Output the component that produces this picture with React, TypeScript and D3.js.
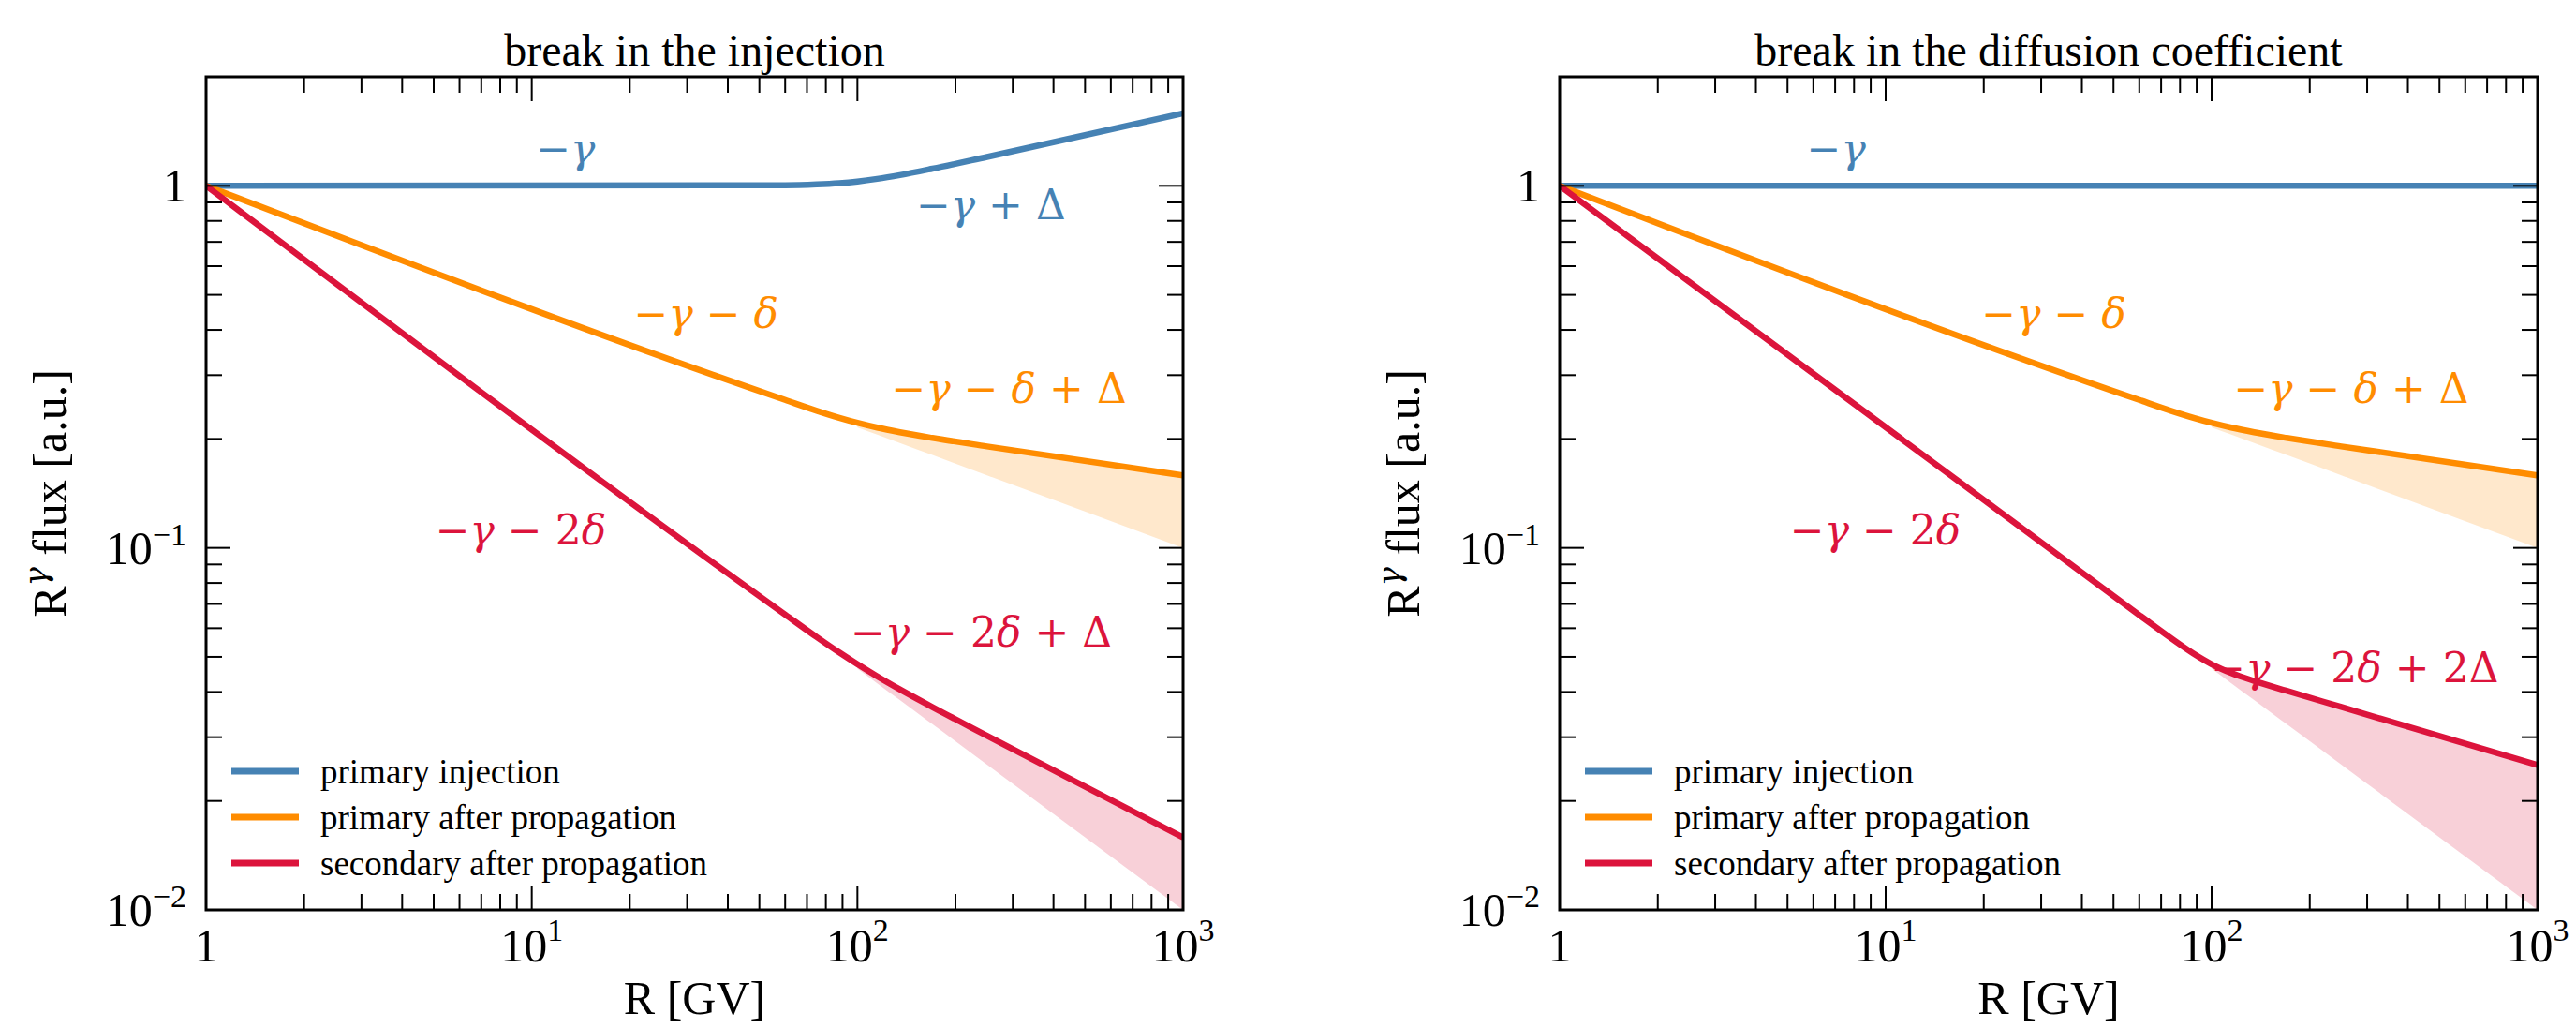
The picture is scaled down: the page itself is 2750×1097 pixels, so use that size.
import * as d3 from 'd3';
import React from 'react';

// rigidity grid (GV) and the fluxes (R^gamma * flux, a.u.)
const rigidity = [1, 60, 75, 88, 100, 115, 135, 170, 250, 1000];
const injectionBreakBlue = [1, 1.003, 1.0086, 1.0171, 1.0281, 1.0451, 1.0704, 1.115, 1.2016, 1.5849];
const flatBlue = [1, 1, 1, 1, 1, 1, 1, 1, 1, 1];
const primaryProp = [1, 0.2562, 0.2392, 0.2287, 0.2215, 0.2149, 0.2087, 0.2013, 0.1907, 0.1585];
const secondaryInj = [1, 0.06544, 0.0567, 0.0514, 0.04772, 0.04418, 0.04066, 0.03633, 0.03028, 0.01585];
const secondaryDiff = [1, 0.06525, 0.05634, 0.05104, 0.04772, 0.0451, 0.04292, 0.04029, 0.03635, 0.02512];

// shaded bands: from the break up to the unbroken power law
const bandRigidity = [100, 115, 135, 170, 250, 1000];
const primaryNoBreak = [0.2154, 0.2056, 0.1949, 0.1805, 0.1587, 0.1];
const secondaryNoBreak = [0.04642, 0.04227, 0.03799, 0.03258, 0.0252, 0.01];

const xMajor = [1, 10, 100, 1000];
const xMajorExp = ['', '1', '2', '3'];
const yMajor = [0.01, 0.1, 1];
const yMajorExp = ['−2', '−1', ''];

const legendLabels = ['primary injection', 'primary after propagation', 'secondary after propagation'];

const BLUE = '#4682b4';
const ORANGE = '#ff8c00';
const RED = '#dc143c';
const FONT = '"Liberation Serif", "DejaVu Serif", serif';
const MATH = '"DejaVu Serif", serif';

const TOP = 82;
const BOTTOM = 971;

type Part = { t: string; it?: boolean };
type Note = { r: number; v: number; color: string; parts: Part[] };

const m = (t: string): Part => ({ t });
const g = (t: string): Part => ({ t, it: true });

const leftNotes: Note[] = [
  { r: 12.7, v: 1.154, color: BLUE, parts: [m('−'), g('γ')] },
  { r: 257, v: 0.807, color: BLUE, parts: [m('−'), g('γ'), m(' + Δ')] },
  { r: 34.3, v: 0.406, color: ORANGE, parts: [m('−'), g('γ'), m(' − '), g('δ')] },
  { r: 292, v: 0.252, color: ORANGE, parts: [m('−'), g('γ'), m(' − '), g('δ'), m(' + Δ')] },
  { r: 9.25, v: 0.102, color: RED, parts: [m('−'), g('γ'), m(' − 2'), g('δ')] },
  { r: 240, v: 0.0534, color: RED, parts: [m('−'), g('γ'), m(' − 2'), g('δ'), m(' + Δ')] },
];

const rightNotes: Note[] = [
  { r: 7.05, v: 1.154, color: BLUE, parts: [m('−'), g('γ')] },
  { r: 32.8, v: 0.406, color: ORANGE, parts: [m('−'), g('γ'), m(' − '), g('δ')] },
  { r: 268, v: 0.252, color: ORANGE, parts: [m('−'), g('γ'), m(' − '), g('δ'), m(' + Δ')] },
  { r: 9.3, v: 0.102, color: RED, parts: [m('−'), g('γ'), m(' − 2'), g('δ')] },
  { r: 275, v: 0.0426, color: RED, parts: [m('−'), g('γ'), m(' − 2'), g('δ'), m(' + 2Δ')] },
];

function Panel({ id, left, width, title, blue, red, redNoBreak, notes }: any) {
  const x = d3.scaleLog().domain([1, 1000]).range([left, left + width]);
  const y = d3.scaleLog().domain([0.01, 2]).range([BOTTOM, TOP]);

  const line = d3.line<number>()
    .x((_, i) => x(rigidity[i]))
    .y(d => y(d))
    .curve(d3.curveMonotoneX);

  const band = (upper: number[], lower: number[]) =>
    d3.area<number>()
      .x((_, i) => x(bandRigidity[i]))
      .y0((_, i) => y(lower[i]))
      .y1(d => y(d))
      .curve(d3.curveMonotoneX)(upper);

  const isMajor = (v: number) => Math.abs(Math.log10(v) - Math.round(Math.log10(v))) < 1e-9;
  const xMinor = x.ticks().filter(v => !isMajor(v));
  const yMinor = y.ticks().filter(v => !isMajor(v) && v < 2);

  const series = [
    { vals: blue, color: BLUE },
    { vals: primaryProp, color: ORANGE },
    { vals: red, color: RED },
  ];

  return (
    <g fontFamily={FONT}>
      <defs>
        <clipPath id={id}>
          <rect x={left} y={TOP} width={width} height={BOTTOM - TOP} />
        </clipPath>
      </defs>
      <text x={left + width / 2} y={70} fontSize={48} textAnchor="middle">{title}</text>

      <g clipPath={`url(#${id})`}>
        <path d={band(primaryProp.slice(4), primaryNoBreak) || ''} fill={ORANGE} fillOpacity={0.2} />
        <path d={band(red.slice(4), redNoBreak) || ''} fill={RED} fillOpacity={0.2} />
        {series.map((s, i) => (
          <path key={i} d={line(s.vals) || ''} fill="none" stroke={s.color} strokeWidth={6.5} />
        ))}
      </g>

      {notes.map((n: Note, i: number) => (
        <text key={i} x={x(n.r)} y={y(n.v)} fill={n.color} fontSize={44} fontFamily={MATH}
          textAnchor="middle" xmlSpace="preserve">
          {n.parts.map((p, j) => (
            <tspan key={j} fontStyle={p.it ? 'italic' : 'normal'}>{p.t}</tspan>
          ))}
        </text>
      ))}

      {/* legend */}
      {legendLabels.map((lab, i) => (
        <g key={lab}>
          <line x1={left + 27} x2={left + 99} y1={823 + i * 49} y2={823 + i * 49}
            stroke={series[i].color} strokeWidth={7} />
          <text x={left + 122} y={823 + i * 49} fontSize={37} dominantBaseline="central">{lab}</text>
        </g>
      ))}

      {/* ticks on all four sides, pointing inward */}
      <g stroke="#000" strokeWidth={2}>
        {xMinor.map(v => (
          <g key={'xm' + v}>
            <line x1={x(v)} x2={x(v)} y1={BOTTOM} y2={BOTTOM - 17} />
            <line x1={x(v)} x2={x(v)} y1={TOP} y2={TOP + 17} />
          </g>
        ))}
        {xMajor.map(v => (
          <g key={'xM' + v}>
            <line x1={x(v)} x2={x(v)} y1={BOTTOM} y2={BOTTOM - 26} />
            <line x1={x(v)} x2={x(v)} y1={TOP} y2={TOP + 26} />
          </g>
        ))}
        {yMinor.map(v => (
          <g key={'ym' + v}>
            <line x1={left} x2={left + 17} y1={y(v)} y2={y(v)} />
            <line x1={left + width} x2={left + width - 17} y1={y(v)} y2={y(v)} />
          </g>
        ))}
        {yMajor.map(v => (
          <g key={'yM' + v}>
            <line x1={left} x2={left + 26} y1={y(v)} y2={y(v)} />
            <line x1={left + width} x2={left + width - 26} y1={y(v)} y2={y(v)} />
          </g>
        ))}
      </g>
      <rect x={left} y={TOP} width={width} height={BOTTOM - TOP} fill="none" stroke="#000" strokeWidth={3} />

      {xMajor.map((v, i) => (
        <text key={'xl' + v} x={x(v)} y={BOTTOM + 55} fontSize={50} textAnchor="middle">
          {xMajorExp[i] ? '10' : '1'}
          {xMajorExp[i] && <tspan fontSize={34} dy={-22}>{xMajorExp[i]}</tspan>}
        </text>
      ))}
      {yMajor.map((v, i) => (
        <text key={'yl' + v} x={left - 21} y={y(v) + 17} fontSize={50} textAnchor="end">
          {yMajorExp[i] ? '10' : '1'}
          {yMajorExp[i] && <tspan fontSize={34} dy={-20}>{yMajorExp[i]}</tspan>}
        </text>
      ))}

      <text x={left + width / 2} y={1082} fontSize={50} textAnchor="middle">R [GV]</text>
      <text transform={`translate(${left - 150},${(TOP + BOTTOM) / 2}) rotate(-90)`} fontSize={50} textAnchor="middle">
        R<tspan fontSize={34} dy={-20} fontStyle="italic" fontFamily={MATH}>γ</tspan><tspan dy={20}> flux [a.u.]</tspan>
      </text>
    </g>
  );
}

export default function App() {
  return (
    <svg width={2750} height={1097} style={{ position: 'absolute', left: 0, top: 0, background: '#fff' }}>
      <rect width={2750} height={1097} fill="#fff" />
      <Panel id="clipL" left={220} width={1043} title="break in the injection"
        blue={injectionBreakBlue} red={secondaryInj} redNoBreak={secondaryNoBreak} notes={leftNotes} />
      <Panel id="clipR" left={1665} width={1044} title="break in the diffusion coefficient"
        blue={flatBlue} red={secondaryDiff} redNoBreak={secondaryNoBreak} notes={rightNotes} />
    </svg>
  );
}
